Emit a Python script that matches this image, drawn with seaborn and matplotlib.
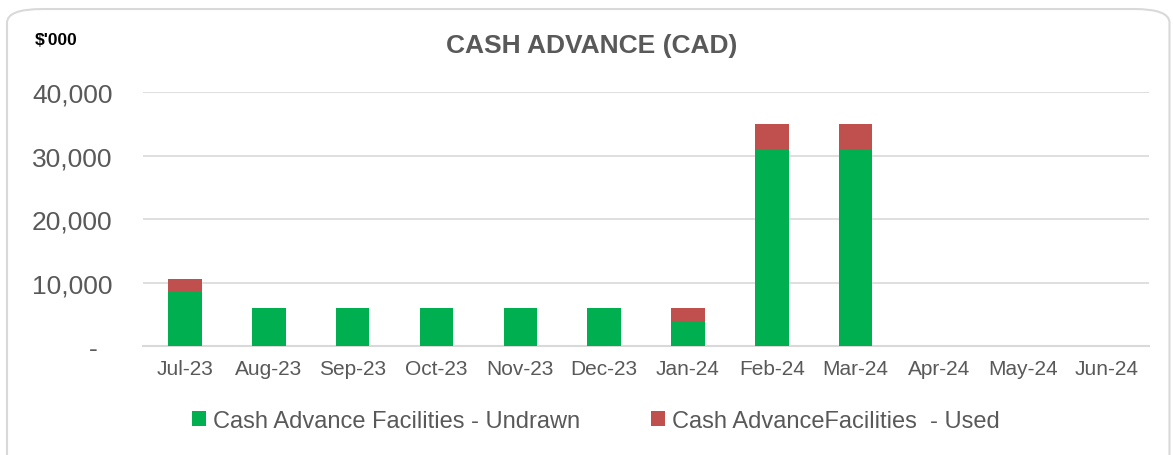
import matplotlib
matplotlib.use("Agg")
import matplotlib.pyplot as plt
from matplotlib.patches import FancyBboxPatch, Patch
from matplotlib.ticker import FuncFormatter
import pandas as pd
import seaborn as sns

months = ["Jul-23", "Aug-23", "Sep-23", "Oct-23", "Nov-23", "Dec-23",
          "Jan-24", "Feb-24", "Mar-24", "Apr-24", "May-24", "Jun-24"]
undrawn = [8450, 6000, 6000, 6000, 6000, 6000, 4000, 30900, 31100, 0, 0, 0]
used = [2100, 0, 0, 0, 0, 0, 2000, 4100, 3900, 0, 0, 0]

GREEN = "#00B050"
RED = "#C0504D"
GREY = "#595959"

df = pd.DataFrame({"month": months, "undrawn": undrawn, "used": used})
df["total"] = df["undrawn"] + df["used"]

sns.set_style("white")
plt.rcParams["font.family"] = ["Liberation Sans", "DejaVu Sans"]

fig = plt.figure(figsize=(11.73, 4.56), dpi=100)
ax = fig.add_axes([0.122, 0.239, 0.8575, 0.557])

# stacked: draw total in red first, then undrawn on top in green
sns.barplot(data=df, x="month", y="total", color=RED, width=0.4,
            saturation=1, linewidth=0, ax=ax, zorder=2)
sns.barplot(data=df, x="month", y="undrawn", color=GREEN, width=0.4,
            saturation=1, linewidth=0, ax=ax, zorder=3)

ax.set_ylim(0, 40000)
ax.set_yticks([0, 10000, 20000, 30000, 40000])
ax.yaxis.set_major_formatter(FuncFormatter(lambda v, p: "-  " if v == 0 else f"{v:,.0f}"))
ax.set_xlim(-0.5, len(months) - 0.5)
ax.grid(axis="y", color="#D9D9D9", linewidth=1.2, zorder=0)
ax.set_axisbelow(True)
for s in ["left", "right", "top"]:
    ax.spines[s].set_visible(False)
ax.spines["bottom"].set_color("#D9D9D9")
ax.spines["bottom"].set_linewidth(1.5)
ax.tick_params(axis="y", length=0, pad=22, labelsize=19, labelcolor=GREY)
ax.tick_params(axis="x", length=0, pad=9, labelsize=15, labelcolor=GREY)
ax.set_xlabel("")
ax.set_ylabel("")

fig.text(0.504, 0.899, "CASH ADVANCE (CAD)", ha="center", va="center",
         fontsize=19, fontweight="bold", color=GREY)
fig.text(0.030, 0.912, "$'000", ha="left", va="center", fontsize=12.5,
         fontweight="bold", color="black")

handles = [Patch(facecolor=GREEN, edgecolor="none"),
           Patch(facecolor=RED, edgecolor="none")]
fig.legend(handles, ["Cash Advance Facilities - Undrawn",
                     "Cash AdvanceFacilities  - Used"],
           loc="center", bbox_to_anchor=(0.508, 0.075), ncol=2, frameon=False,
           fontsize=17, labelcolor=GREY, handlelength=0.6, handleheight=0.6,
           handletextpad=0.3, columnspacing=3.0)

# rounded chart border
fig.patches.append(FancyBboxPatch((0.006, -0.05), 0.991, 1.028,
                                  boxstyle="round,pad=0,rounding_size=0.03",
                                  transform=fig.transFigure, facecolor="none",
                                  edgecolor="#D9D9D9", linewidth=1.5))

fig.savefig("out.png", dpi=100)
